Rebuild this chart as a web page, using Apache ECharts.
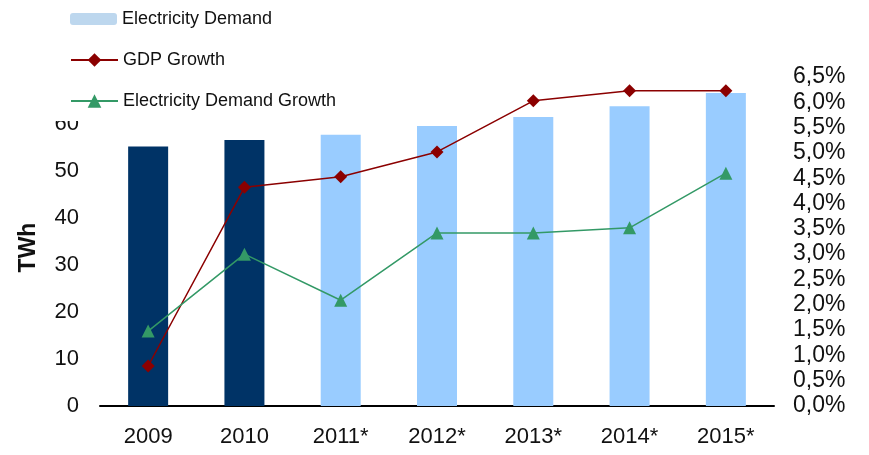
<!DOCTYPE html>
<html>
<head>
<meta charset="utf-8">
<script src="https://cdn.jsdelivr.net/npm/echarts@6/dist/echarts.min.js"></script>
<style>html,body{margin:0;padding:0;background:#fff}#c{width:869px;height:455px}</style>
</head>
<body>
<div id="c"></div>
<script>
var categories = ['2009', '2010', '2011*', '2012*', '2013*', '2014*', '2015*'];
var electricityDemand = [55.2, 56.6, 57.7, 59.6, 61.5, 63.8, 66.6];
var gdpGrowth = [0.79, 4.32, 4.53, 5.02, 6.03, 6.23, 6.23];
var demandGrowth = [1.48, 3.0, 2.09, 3.42, 3.42, 3.52, 4.6];
var actualCount = 2;

var FONT = 'Liberation Sans, Arial, sans-serif';
var chart = echarts.init(document.getElementById('c'));
chart.setOption({
  animation: false,
  backgroundColor: '#fff',
  grid: { left: 100, right: 95, top: 77, bottom: 49 },
  legend: [
    {
      orient: 'vertical',
      left: 30, top: 0,
      padding: [10, 10, 93, 40],
      backgroundColor: '#fff',
      itemWidth: 47, itemHeight: 12,
      textStyle: { fontFamily: FONT, fontSize: 18, color: '#111' },
      data: [{ name: 'Electricity Demand', itemStyle: { color: '#bdd7ee' } }],
      z: 4
    },
    {
      orient: 'vertical',
      left: 70, top: 51,
      padding: 0,
      itemWidth: 47, itemHeight: 17,
      itemGap: 23,
      textStyle: { fontFamily: FONT, fontSize: 18, color: '#111' },
      data: ['GDP Growth', 'Electricity Demand Growth'],
      z: 5
    }
  ],
  xAxis: {
    type: 'category',
    data: categories,
    axisLine: { lineStyle: { color: '#000', width: 2 } },
    axisTick: { show: false },
    axisLabel: { fontFamily: FONT, fontSize: 22, color: '#111', margin: 20 }
  },
  yAxis: [
    {
      type: 'value', min: 0, max: 70, interval: 10,
      name: 'TWh', nameLocation: 'middle', nameGap: 60,
      nameTextStyle: { fontFamily: FONT, fontSize: 23, fontWeight: 'bold', color: '#111', padding: [0, 12, 0, 0] },
      axisLine: { show: false }, axisTick: { show: false }, splitLine: { show: false },
      axisLabel: { fontFamily: FONT, fontSize: 22, color: '#111', margin: 21,
        formatter: function (v) { return v === 70 ? '' : String(v); } }
    },
    {
      type: 'value', min: 0, max: 6.5, interval: 0.5,
      axisLine: { show: false }, axisTick: { show: false }, splitLine: { show: false },
      axisLabel: { fontFamily: FONT, fontSize: 23, color: '#111', margin: 19,
        formatter: function (v) { return v.toFixed(1).replace('.', ',') + '%'; } }
    }
  ],
  series: [
    {
      name: 'Electricity Demand', type: 'bar', yAxisIndex: 0,
      barWidth: 40,
      itemStyle: { color: '#99ccff' },
      data: electricityDemand.map(function (v, i) {
        return i < actualCount ? { value: v, itemStyle: { color: '#003366' } } : v;
      }),
      z: 1
    },
    {
      name: 'GDP Growth', type: 'line', yAxisIndex: 1,
      data: gdpGrowth,
      symbol: 'diamond', symbolSize: 13,
      lineStyle: { color: '#8b0000', width: 1.5 },
      itemStyle: { color: '#8b0000' },
      z: 3
    },
    {
      name: 'Electricity Demand Growth', type: 'line', yAxisIndex: 1,
      data: demandGrowth,
      symbol: 'triangle', symbolSize: [13, 13],
      lineStyle: { color: '#339966', width: 1.5 },
      itemStyle: { color: '#339966' },
      z: 3
    }
  ]
});
</script>
</body>
</html>
